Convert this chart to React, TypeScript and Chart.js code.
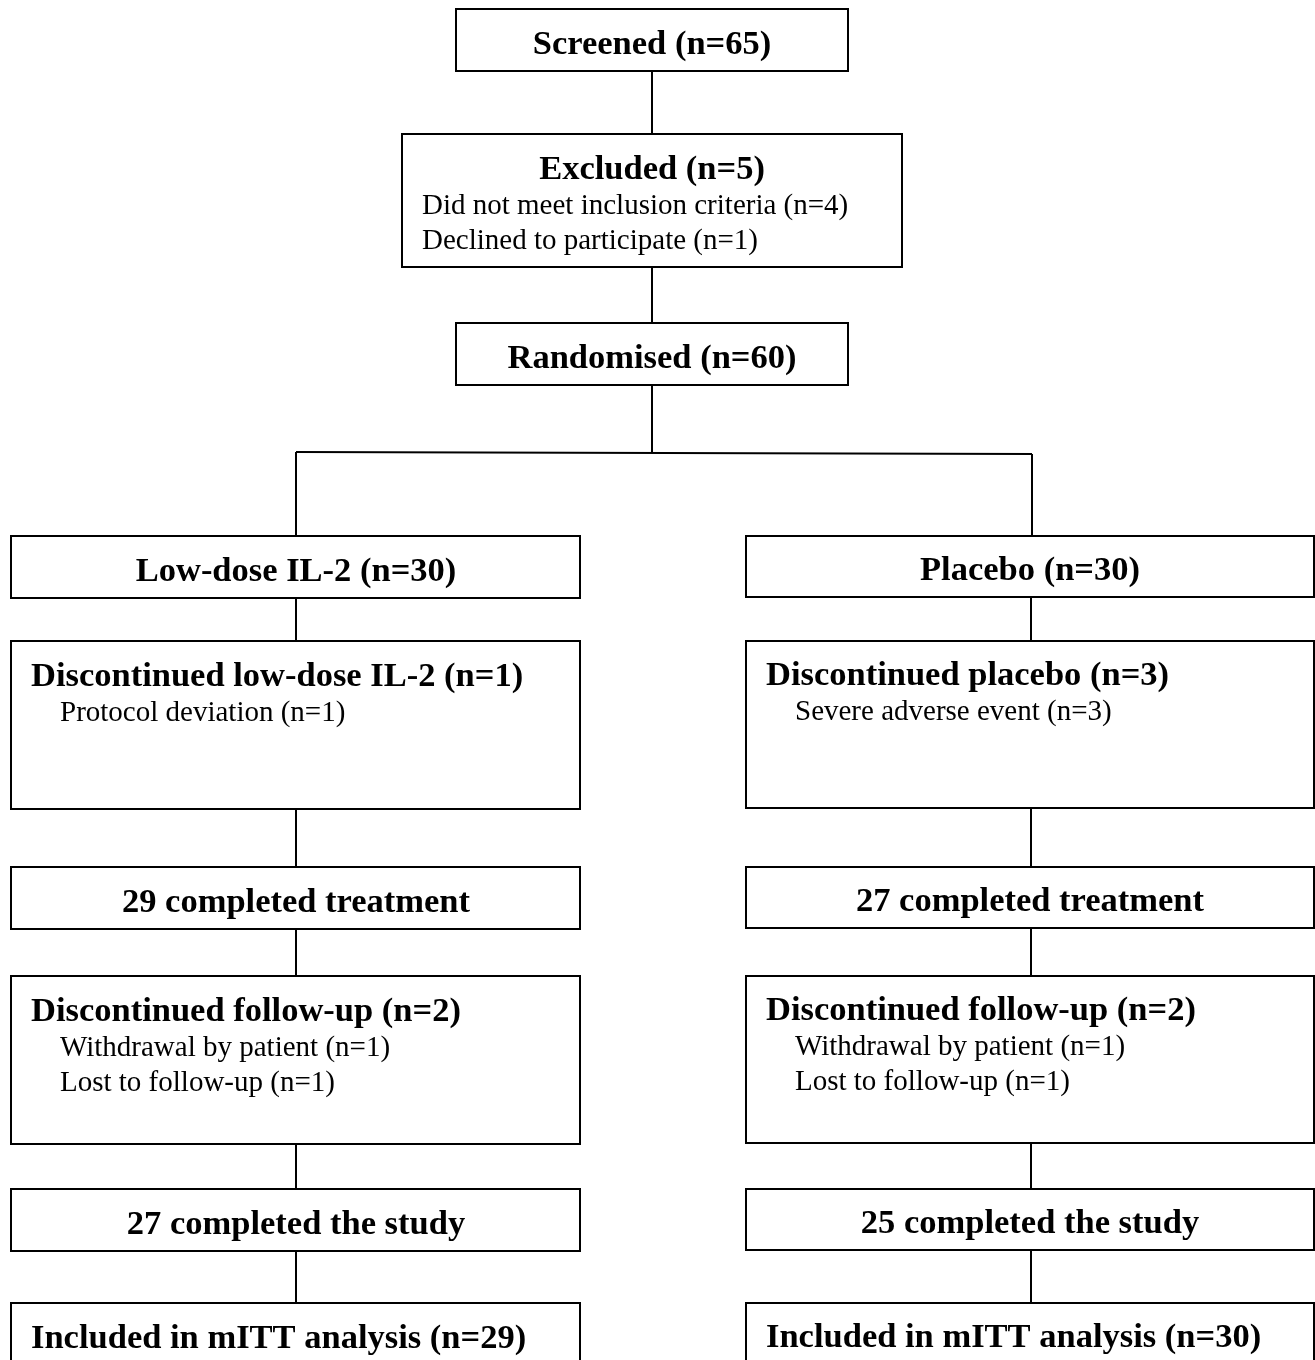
import { useEffect, useRef } from 'react';
import { Chart, registerables } from 'chart.js';
Chart.register(...registerables);

// boxes: [x0, y0, x1, y1] in diagram units
const boxNames = ['screened', 'excluded', 'randomised', 'lowdose', 'placebo', 'discL', 'discR', 'treatL', 'treatR', 'fuL', 'fuR', 'studyL', 'studyR', 'mittL', 'mittR'];
const boxRects = [
  [456, 9, 848, 71], [402, 134, 902, 267], [456, 323, 848, 385],
  [11, 536, 580, 598], [746, 536, 1314, 597],
  [11, 641, 580, 809], [746, 641, 1314, 808],
  [11, 867, 580, 929], [746, 867, 1314, 928],
  [11, 976, 580, 1144], [746, 976, 1314, 1143],
  [11, 1189, 580, 1251], [746, 1189, 1314, 1250],
  [11, 1303, 580, 1400], [746, 1303, 1314, 1400],
];
// texts: [text, x, y, bold, align]
const texts: [string, number, number, boolean, 'center' | 'left'][] = [
  ['Screened (n=65)', 652, 43, true, 'center'],
  ['Excluded (n=5)', 652, 168, true, 'center'],
  ['Did not meet inclusion criteria (n=4)', 422, 204, false, 'left'],
  ['Declined to participate (n=1)', 422, 239, false, 'left'],
  ['Randomised (n=60)', 652, 357, true, 'center'],
  ['Low-dose IL-2 (n=30)', 296, 570, true, 'center'],
  ['Placebo (n=30)', 1030, 569, true, 'center'],
  ['Discontinued low-dose IL-2 (n=1)', 31, 675, true, 'left'],
  ['Protocol deviation (n=1)', 60, 711, false, 'left'],
  ['Discontinued placebo (n=3)', 766, 674, true, 'left'],
  ['Severe adverse event (n=3)', 795, 710, false, 'left'],
  ['29 completed treatment', 296, 901, true, 'center'],
  ['27 completed treatment', 1030, 900, true, 'center'],
  ['Discontinued follow-up (n=2)', 31, 1010, true, 'left'],
  ['Withdrawal by patient (n=1)', 60, 1046, false, 'left'],
  ['Lost to follow-up (n=1)', 60, 1081, false, 'left'],
  ['Discontinued follow-up (n=2)', 766, 1009, true, 'left'],
  ['Withdrawal by patient (n=1)', 795, 1045, false, 'left'],
  ['Lost to follow-up (n=1)', 795, 1080, false, 'left'],
  ['27 completed the study', 296, 1223, true, 'center'],
  ['25 completed the study', 1030, 1222, true, 'center'],
  ['Included in mITT analysis (n=29)', 31, 1337, true, 'left'],
  ['Included in mITT analysis (n=30)', 766, 1336, true, 'left'],
];
// connector segments: [x0, y0, x1, y1]
const links = [
  [652, 71, 652, 134], [652, 267, 652, 323], [652, 385, 652, 452],
  [296, 452, 1032, 454], [296, 452, 296, 536], [1032, 454, 1032, 536],
  [296, 598, 296, 641], [1031, 597, 1031, 641],
  [296, 809, 296, 867], [1031, 808, 1031, 867],
  [296, 929, 296, 976], [1031, 928, 1031, 976],
  [296, 1144, 296, 1189], [1031, 1143, 1031, 1189],
  [296, 1251, 296, 1303], [1031, 1250, 1031, 1303],
];

const flowPlugin = {
  id: 'flow',
  afterDraw(chart: any) {
    const { ctx, scales } = chart;
    const X = (v: number) => scales.x.getPixelForValue(v);
    const Y = (v: number) => scales.y.getPixelForValue(v);
    ctx.save();
    ctx.strokeStyle = '#000';
    ctx.lineWidth = 2;
    links.forEach(([a, b, c, d]) => {
      ctx.beginPath(); ctx.moveTo(X(a), Y(b)); ctx.lineTo(X(c), Y(d)); ctx.stroke();
    });
    boxRects.forEach(([a, b, c, d]) => {
      ctx.strokeRect(X(a), Y(b), X(c) - X(a), Y(d) - Y(b));
    });
    ctx.fillStyle = '#000';
    ctx.textBaseline = 'middle';
    texts.forEach(([t, x, y, bold, align]) => {
      ctx.font = bold ? 'bold 34.5px "Liberation Serif"' : '29px "Liberation Serif"';
      ctx.textAlign = align;
      ctx.fillText(t, X(x), Y(y) + 2);
    });
    ctx.restore();
  },
};

export default function App() {
  const ref = useRef<HTMLCanvasElement | null>(null);
  useEffect(() => {
    document.body.style.margin = '0';
    if (!ref.current) return;
    const chart = new Chart(ref.current, {
      type: 'scatter',
      data: { datasets: [{ data: [], label: boxNames.join(',') }] },
      options: {
        animation: false, responsive: false,
        layout: { padding: 0 },
        plugins: { legend: { display: false }, tooltip: { enabled: false } },
        scales: {
          x: { type: 'linear', min: 0, max: 1315, display: false },
          y: { type: 'linear', min: 0, max: 1360, reverse: true, display: false },
        },
      },
      plugins: [flowPlugin],
    });
    return () => chart.destroy();
  }, []);
  return <canvas ref={ref} width={1315} height={1360} style={{ display: 'block', background: '#fff' }} />;
}
